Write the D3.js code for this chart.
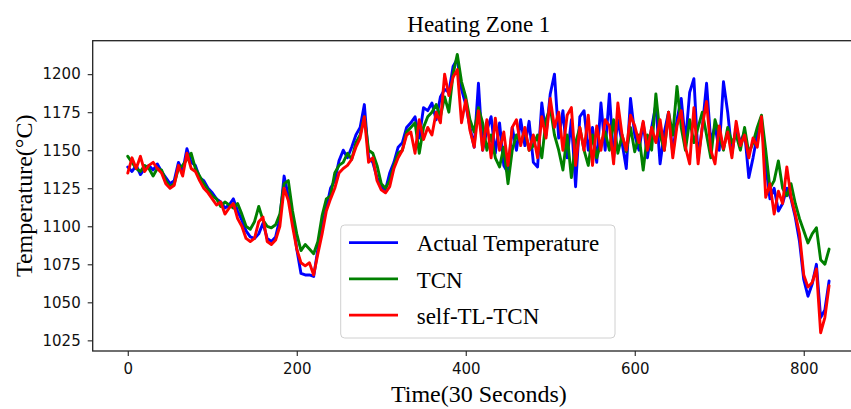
<!DOCTYPE html>
<html>
<head>
<meta charset="utf-8">
<script src="https://cdn.jsdelivr.net/npm/d3@7/dist/d3.min.js"></script>
<style>
  html, body { margin: 0; padding: 0; background: #fff; }
  svg { display: block; }
</style>
</head>
<body>
<svg id="chart" width="851" height="409"></svg>
<script>
// Sampling interval of the series below, in 30-second steps
const STEP = 5;

// Measured furnace temperature, one value every STEP steps (t = 0 .. 830)
const actualTemp = [
  1139, 1136, 1140, 1134, 1138, 1140, 1137, 1141, 1136, 1132,
  1128, 1130, 1142, 1136, 1151, 1142, 1140, 1132, 1130, 1125,
  1122, 1118, 1116, 1112, 1114, 1118, 1110, 1104, 1097, 1093,
  1092, 1095, 1102, 1092, 1090, 1093, 1105, 1133, 1120, 1105,
  1085, 1069, 1068, 1068, 1067, 1085, 1100, 1112, 1125, 1130,
  1143, 1150, 1145, 1152, 1160, 1165, 1180, 1145, 1142, 1132,
  1126, 1124, 1135, 1142, 1152, 1155, 1165, 1168, 1172, 1158,
  1178, 1176, 1181, 1170, 1185, 1190, 1188, 1205, 1210, 1190,
  1180, 1165, 1152, 1194, 1150, 1163, 1172, 1148, 1168, 1140,
  1135, 1165, 1150, 1170, 1153, 1169, 1142, 1139, 1181, 1160,
  1187, 1200, 1158, 1176, 1145, 1170, 1126, 1172, 1176, 1150,
  1165, 1142, 1181, 1150, 1187, 1145, 1170, 1155, 1138, 1184,
  1160, 1150, 1168, 1145, 1165, 1180, 1141, 1162, 1175, 1148,
  1170, 1184, 1155, 1188, 1197, 1145, 1165, 1194, 1155, 1166,
  1150, 1195, 1175, 1148, 1165, 1155, 1162, 1132, 1145, 1160,
  1168, 1140, 1118, 1125, 1110, 1115, 1125, 1118, 1106, 1090,
  1065, 1054, 1062, 1075, 1040, 1045, 1064
];

// TCN prediction
const tcnPred = [
  1146, 1142, 1138, 1136, 1140, 1138, 1133, 1138, 1137, 1130,
  1126, 1128, 1138, 1140, 1144, 1148, 1138, 1133, 1128, 1124,
  1120, 1118, 1113, 1116, 1114, 1112, 1115, 1108, 1100, 1098,
  1103, 1113, 1104, 1100, 1099, 1101, 1108, 1128, 1130, 1110,
  1095, 1084, 1088, 1085, 1082, 1090, 1107, 1118, 1120, 1135,
  1140, 1142, 1148, 1144, 1155, 1160, 1172, 1150, 1148, 1140,
  1128, 1125, 1130, 1140, 1148, 1150, 1162, 1165, 1168, 1148,
  1165, 1172, 1175, 1180, 1172, 1185, 1175, 1200, 1213, 1195,
  1185, 1170, 1162, 1178, 1168, 1150, 1160, 1145, 1139, 1152,
  1128, 1150, 1160, 1155, 1163, 1150, 1153, 1160, 1145, 1170,
  1178, 1160, 1150, 1137, 1160, 1132, 1155, 1165, 1150, 1140,
  1160, 1145, 1155, 1162, 1150, 1170, 1148, 1160, 1149, 1165,
  1149, 1160, 1137, 1160, 1150, 1187, 1160, 1150, 1175, 1160,
  1192, 1165, 1150, 1170, 1155, 1165, 1175, 1160, 1145, 1170,
  1160, 1150, 1165, 1155, 1160, 1150, 1165, 1148, 1155, 1165,
  1173, 1150, 1125, 1130, 1143, 1125, 1120, 1128, 1115, 1105,
  1097, 1089, 1095, 1099, 1078, 1075, 1085
];

// self-TL-TCN prediction
const selfTlTcnPred = [
  1135, 1145, 1138, 1146, 1136, 1140, 1142, 1138, 1135, 1128,
  1125, 1127, 1140, 1133, 1148, 1138, 1136, 1130, 1125, 1122,
  1118, 1114, 1116, 1108, 1112, 1115, 1105, 1100, 1092, 1090,
  1092, 1103, 1106, 1090, 1088, 1091, 1100, 1125, 1117, 1100,
  1085, 1076, 1074, 1076, 1068, 1082, 1095, 1110, 1118, 1125,
  1135, 1138, 1140, 1144, 1152, 1158, 1172, 1142, 1145, 1130,
  1124, 1122, 1126, 1138, 1145, 1150, 1160, 1162, 1148, 1170,
  1157, 1165, 1160, 1175, 1168, 1200, 1186, 1198, 1203, 1168,
  1183, 1163, 1152, 1176, 1150, 1170, 1145, 1171, 1150, 1162,
  1140, 1165, 1170, 1153, 1165, 1150, 1160, 1145, 1172, 1158,
  1184, 1165, 1175, 1150, 1173, 1178, 1140, 1165, 1150, 1173,
  1140, 1166, 1150, 1170, 1166, 1141, 1181, 1160, 1150, 1173,
  1166, 1155, 1169, 1150, 1165, 1155, 1170, 1150, 1175, 1145,
  1166, 1176, 1152, 1141, 1178, 1141, 1166, 1182, 1150, 1141,
  1166, 1151, 1162, 1145, 1169, 1153, 1160, 1145, 1158, 1152,
  1172, 1119, 1128, 1108, 1123, 1115, 1139, 1119, 1108, 1095,
  1068, 1060, 1063, 1072, 1030, 1040, 1061
];

const xTicks = [0, 200, 400, 600, 800];
const yTicks = [1025, 1050, 1075, 1100, 1125, 1150, 1175, 1200];
const seriesNames = ["Actual Temperature", "TCN", "self-TL-TCN"];
const seriesColors = ["#0000ff", "#008000", "#ff0000"];

const times = actualTemp.map((_, i) => i * STEP);
const seriesValues = [actualTemp, tcnPred, selfTlTcnPred];

const svg = d3.select("#chart");
const plot = { left: 92.7, top: 40.7, right: 865, bottom: 351 };

const x = d3.scaleLinear().domain([-41.5, 872.5]).range([plot.left, plot.right]);
const y = d3.scaleLinear().domain([1018, 1222]).range([plot.bottom, plot.top]);

svg.append("clipPath").attr("id", "plot-clip")
  .append("rect")
  .attr("x", plot.left).attr("y", plot.top)
  .attr("width", plot.right - plot.left).attr("height", plot.bottom - plot.top);

// Series lines
const line = d3.line().x((d, i) => x(times[i])).y(d => y(d));
const lines = svg.append("g").attr("clip-path", "url(#plot-clip)");
seriesValues.forEach((vals, k) => {
  lines.append("path")
    .datum(vals)
    .attr("d", line)
    .attr("fill", "none")
    .attr("stroke", seriesColors[k])
    .attr("stroke-width", 2.9)
    .attr("stroke-linejoin", "round")
    .attr("stroke-linecap", "round");
});

// Axes
const tickFont = "'DejaVu Sans', sans-serif";
const xAxis = svg.append("g")
  .attr("transform", `translate(0,${plot.bottom})`)
  .call(d3.axisBottom(x).tickValues(xTicks).tickFormat(d3.format("d")).tickSize(5).tickPadding(7));
const yAxis = svg.append("g")
  .attr("transform", `translate(${plot.left},0)`)
  .call(d3.axisLeft(y).tickValues(yTicks).tickFormat(d3.format("d")).tickSize(5).tickPadding(7));
[xAxis, yAxis].forEach(g => {
  g.select(".domain").remove();
  g.selectAll(".tick line").attr("stroke", "#222").attr("stroke-width", 1.1);
  g.selectAll(".tick text")
    .attr("fill", "#111")
    .style("font-family", tickFont)
    .style("font-size", "15px");
});

// Frame
svg.append("rect")
  .attr("x", plot.left).attr("y", plot.top)
  .attr("width", plot.right - plot.left).attr("height", plot.bottom - plot.top)
  .attr("fill", "none").attr("stroke", "#222").attr("stroke-width", 1.3);

// Titles
const serif = "'Liberation Serif', 'Times New Roman', serif";
svg.append("text")
  .attr("x", (plot.left + plot.right) / 2).attr("y", 31.5)
  .attr("text-anchor", "middle")
  .style("font-family", serif).style("font-size", "23px")
  .text("Heating Zone 1");
svg.append("text")
  .attr("x", (plot.left + plot.right) / 2).attr("y", 402)
  .attr("text-anchor", "middle")
  .style("font-family", serif).style("font-size", "24px")
  .text("Time(30 Seconds)");
svg.append("text")
  .attr("transform", `translate(32,${(plot.top + plot.bottom) / 2}) rotate(-90)`)
  .attr("text-anchor", "middle")
  .style("font-family", serif).style("font-size", "24px")
  .text("Temperature(°C)");

// Legend
const legend = svg.append("g").attr("transform", "translate(340.7,225)");
legend.append("rect")
  .attr("x", 0).attr("y", 0).attr("width", 274.3).attr("height", 113)
  .attr("rx", 4).attr("ry", 4)
  .attr("fill", "#fff").attr("fill-opacity", 0.85)
  .attr("stroke", "#d0d0d0").attr("stroke-width", 1);
seriesNames.forEach((name, k) => {
  const cy = 17.7 + k * 36.2;
  legend.append("line")
    .attr("x1", 8.3).attr("x2", 57.3).attr("y1", cy).attr("y2", cy)
    .attr("stroke", seriesColors[k]).attr("stroke-width", 2.8);
  legend.append("text")
    .attr("x", 76).attr("y", cy + 8.6)
    .style("font-family", serif).style("font-size", "23px")
    .text(name);
});
</script>
</body>
</html>
